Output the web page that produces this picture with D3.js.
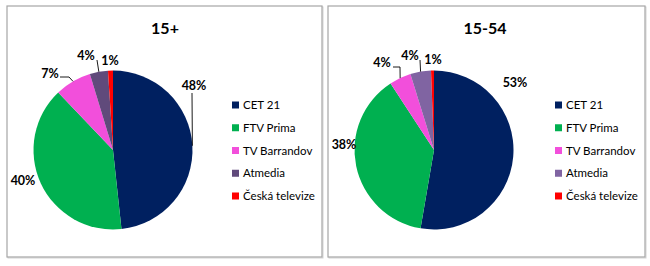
<!DOCTYPE html>
<html>
<head>
<meta charset="utf-8">
<script src="https://cdn.jsdelivr.net/npm/d3@7"></script>
<style>
  body { margin: 0; background: #fff; }
  text { font-family: Lato, "Open Sans", sans-serif; }
</style>
</head>
<body>
<script>
// data
var channels = ["CET 21", "FTV Prima", "TV Barrandov", "Atmedia", "Česká televize"];
var titles = ["15+", "15-54"];
var shares15plus = [48.3, 39.6, 7.4, 3.7, 1.0];
var shares15to54 = [52.7, 38.1, 4.4, 4.2, 0.6];
var pctLabels15plus = ["48%", "40%", "7%", "4%", "1%"];
var pctLabels15to54 = ["53%", "38%", "4%", "4%", "1%"];

// colours per panel (Atmedia is lighter in the second one)
var colors15plus = ["#002060", "#00B050", "#F24FDB", "#604A7B", "#FF0000"];
var colors15to54 = ["#002060", "#00B050", "#F24FDB", "#8064A2", "#FF0000"];

var svg = d3.select("body").append("svg").attr("width", 650).attr("height", 266);

// layout for each panel: frame, pie centre, legend spot, label offsets (relative to pie centre)
var panels = [
  {
    frame: [7, 6, 315, 251], cx: 113, cy: 150, titleX: 165, legendX: 232,
    values: shares15plus, labels: pctLabels15plus, colors: colors15plus, title: titles[0],
    labelPos: [[81, -65], [-90, 30], [-63, -77], [-27, -95], [-3, -90]],
    leaders: [[[79, -57]], null, [[-53, -73], [-44, -73]], [[-16, -90]], null]
  },
  {
    frame: [328, 6, 317, 251], cx: 434, cy: 150, titleX: 485, legendX: 555,
    values: shares15to54, labels: pctLabels15to54, colors: colors15to54, title: titles[1],
    labelPos: [[81, -68], [-90, -6], [-52, -88], [-24, -95], [-1, -91]],
    leaders: [null, null, [[-41, -83], [-34, -83]], [[-14, -90]], null]
  }
];

var radius = 79.5;
var pie = d3.pie().sort(null);
var arc = d3.arc().innerRadius(0).outerRadius(radius);
var edgeArc = d3.arc().innerRadius(radius).outerRadius(radius);

panels.forEach(function(p) {
  // frame
  svg.append("rect")
    .attr("x", p.frame[0] + 1).attr("y", p.frame[1] + 1)
    .attr("width", p.frame[2]).attr("height", p.frame[3])
    .attr("fill", "none").attr("stroke", "#d4d4d4").attr("stroke-width", 1);
  svg.append("rect")
    .attr("x", p.frame[0]).attr("y", p.frame[1])
    .attr("width", p.frame[2]).attr("height", p.frame[3])
    .attr("fill", "#fff").attr("stroke", "#a6a6a6").attr("stroke-width", 1.2);

  // title
  svg.append("text")
    .attr("x", p.titleX).attr("y", 34)
    .attr("text-anchor", "middle")
    .attr("font-size", "16px").attr("font-weight", "bold")
    .text(p.title);

  var g = svg.append("g").attr("transform", `translate(${p.cx},${p.cy})`);
  var arcs = pie(p.values);

  g.selectAll("path.slice")
    .data(arcs)
    .enter()
    .append("path")
    .attr("class", "slice")
    .attr("d", arc)
    .attr("fill", (d, i) => p.colors[i]);

  // leader lines from slice edge to label
  arcs.forEach(function(d, i) {
    if (!p.leaders[i]) return;
    var pts = p.leaders[i].concat([edgeArc.centroid(d)]);
    g.append("path")
      .attr("d", d3.line()(pts))
      .attr("fill", "none")
      .attr("stroke", "#000")
      .attr("stroke-width", 0.9);
  });

  g.selectAll("text.pct")
    .data(arcs)
    .enter()
    .append("text")
    .attr("class", "pct")
    .attr("x", (d, i) => p.labelPos[i][0])
    .attr("y", (d, i) => p.labelPos[i][1] + 4.5)
    .attr("text-anchor", "middle")
    .attr("font-size", "12.5px").attr("font-weight", "bold")
    .text((d, i) => p.labels[i]);

  // legend
  var legend = svg.append("g").attr("transform", `translate(${p.legendX},105)`);
  var rows = legend.selectAll("g")
    .data(channels)
    .enter()
    .append("g")
    .attr("transform", (d, i) => `translate(0,${i * 22.75})`);
  rows.append("rect")
    .attr("x", 0).attr("y", -3.5)
    .attr("width", 7).attr("height", 7)
    .attr("fill", (d, i) => p.colors[i]);
  rows.append("text")
    .attr("x", 11).attr("y", 4)
    .attr("font-size", "11.5px")
    .text(d => d);
});
</script>
</body>
</html>
